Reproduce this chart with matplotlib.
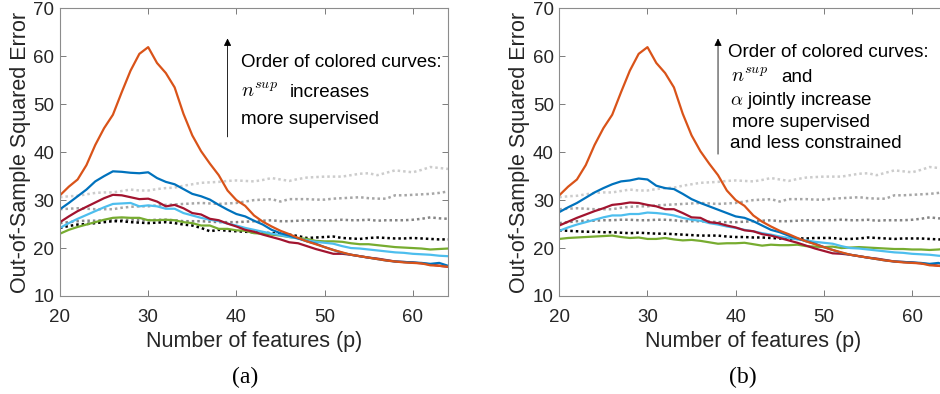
import matplotlib
matplotlib.use("Agg")
import matplotlib.pyplot as plt

p = list(range(20, 65))

orange = [31.0, 32.8, 34.3, 37.3, 41.5, 45.0, 47.8, 52.5, 57.0, 60.5, 61.9, 58.6, 56.5, 53.5, 48.0,
          43.5, 40.2, 37.6, 35.2, 32.0, 30.0, 28.8, 26.8, 25.5, 24.5, 23.6, 22.9, 22.1, 21.4, 20.8,
          20.2, 19.6, 19.1, 18.6, 18.3, 18.0, 17.7, 17.4, 17.2, 17.0, 16.9, 16.8, 16.4, 16.3, 16.1]

blue_a = [28.1, 29.4, 30.8, 32.2, 33.9, 35.0, 36.0, 35.9, 35.7, 35.6, 35.8, 34.6, 33.8, 33.3, 32.3,
          31.3, 30.8, 30.1, 29.0, 28.0, 27.1, 26.6, 25.7, 24.9, 23.8, 23.1, 22.6, 22.0, 21.4, 20.9,
          20.2, 19.6, 19.0, 18.6, 18.3, 18.0, 17.7, 17.4, 17.2, 17.1, 17.0, 16.9, 16.7, 16.9, 16.3]
blue_b = [27.5, 28.5, 29.4, 30.5, 31.6, 32.5, 33.3, 33.9, 34.1, 34.5, 34.3, 33.0, 32.5, 32.3, 31.3,
          30.2, 29.4, 28.7, 28.0, 27.3, 26.6, 26.3, 25.6, 24.7, 23.8, 23.3, 22.6, 22.0, 21.4, 20.9,
          20.2, 19.6, 19.0, 18.6, 18.3, 18.0, 17.7, 17.4, 17.2, 17.1, 17.0, 16.9, 16.7, 16.9, 16.3]

red_a = [25.4, 26.6, 27.7, 28.6, 29.5, 30.4, 31.1, 31.0, 30.6, 30.2, 30.3, 29.7, 28.7, 29.0, 28.3,
         27.3, 27.0, 26.1, 25.8, 25.1, 24.5, 23.8, 23.4, 22.8, 22.3, 21.8, 21.2, 21.0, 20.4, 19.8,
         19.3, 18.8, 18.8, 18.6, 18.3, 18.0, 17.8, 17.5, 17.2, 17.1, 17.0, 16.8, 16.6, 16.3, 16.1]
red_b = [24.7, 25.5, 26.3, 27.0, 27.7, 28.3, 29.0, 29.2, 29.5, 29.4, 29.0, 28.7, 28.1, 28.1, 27.3,
         26.4, 26.3, 25.4, 25.2, 24.7, 24.3, 23.7, 23.5, 22.9, 22.6, 22.1, 21.6, 21.1, 20.5, 19.9,
         19.4, 18.9, 18.8, 18.6, 18.3, 18.0, 17.8, 17.5, 17.2, 17.1, 17.0, 16.8, 16.6, 16.3, 16.1]

lblue_a = [24.2, 25.2, 26.1, 26.9, 27.7, 28.5, 29.2, 29.3, 29.4, 28.7, 28.9, 28.7, 28.2, 28.2, 27.3,
           26.8, 26.3, 25.9, 25.6, 25.1, 24.7, 24.2, 23.8, 23.4, 23.0, 22.7, 22.3, 22.0, 21.6, 21.3,
           21.1, 20.9, 20.4, 20.0, 19.9, 19.7, 19.5, 19.3, 19.1, 19.0, 18.8, 18.7, 18.6, 18.4, 18.3]
lblue_b = [23.6, 24.3, 24.9, 25.4, 25.9, 26.4, 26.8, 26.8, 27.1, 27.1, 27.4, 27.3, 27.1, 26.8, 26.3,
           25.9, 25.7, 25.2, 24.9, 24.5, 24.2, 23.8, 23.5, 23.1, 22.8, 22.4, 22.1, 21.8, 21.6, 21.3,
           21.1, 20.9, 20.4, 20.0, 19.9, 19.7, 19.5, 19.3, 19.1, 19.0, 18.8, 18.7, 18.6, 18.4, 18.3]

green_a = [23.0, 23.8, 24.4, 24.9, 25.4, 25.9, 26.3, 26.4, 26.3, 26.3, 25.8, 25.8, 25.9, 25.8, 25.4,
           25.2, 24.7, 24.7, 24.0, 24.0, 23.7, 23.6, 23.1, 23.0, 22.8, 22.6, 22.3, 22.1, 21.9, 21.5,
           21.4, 21.4, 21.3, 21.0, 20.8, 20.8, 20.6, 20.4, 20.2, 20.1, 20.0, 19.9, 19.7, 19.8, 19.9]
green_b = [21.9, 22.1, 22.2, 22.3, 22.4, 22.5, 22.6, 22.3, 22.1, 22.2, 21.9, 21.9, 22.1, 21.8, 21.6,
           21.7, 21.5, 21.2, 20.9, 21.0, 21.0, 21.1, 20.8, 20.5, 20.7, 20.6, 20.6, 20.7, 20.4, 20.3,
           20.2, 20.3, 20.0, 20.1, 20.2, 20.1, 20.0, 19.9, 19.8, 19.8, 19.7, 19.7, 19.6, 19.7, 19.9]

black_a = [24.2, 24.6, 24.9, 25.0, 25.2, 25.4, 25.6, 25.6, 25.4, 25.3, 25.2, 25.3, 25.4, 25.2, 24.9,
           24.7, 24.2, 23.5, 23.8, 23.6, 23.5, 23.4, 23.3, 23.2, 23.1, 23.0, 22.8, 22.5, 22.1, 22.2,
           22.3, 22.4, 22.1, 22.0, 21.9, 22.1, 22.2, 22.1, 22.0, 22.0, 22.1, 22.0, 21.9, 21.8, 21.8]
black_b = [23.7, 23.6, 23.5, 23.4, 23.4, 23.3, 23.3, 23.2, 23.1, 23.2, 23.1, 23.0, 23.0, 22.9, 22.8,
           22.7, 22.6, 22.6, 22.6, 22.4, 22.3, 22.3, 22.2, 22.2, 22.1, 22.0, 21.9, 22.0, 22.0, 22.1,
           22.1, 22.1, 21.9, 21.9, 22.0, 22.2, 22.1, 22.0, 21.9, 22.0, 22.0, 22.0, 21.9, 21.8, 21.8]

gray_light = [30.6, 30.8, 30.9, 31.2, 31.5, 31.6, 31.6, 31.9, 32.2, 32.0, 32.0, 32.3, 32.5, 32.6, 33.0,
              33.3, 33.6, 33.7, 33.8, 34.0, 34.1, 34.0, 33.9, 34.2, 34.6, 34.3, 34.0, 34.4, 34.7, 34.8,
              34.9, 34.9, 34.9, 35.2, 35.5, 35.6, 35.2, 35.7, 36.2, 36.0, 35.8, 36.3, 36.9, 36.7, 36.5]
gray_mid = [28.1, 28.2, 28.3, 28.2, 28.1, 28.1, 28.1, 28.4, 28.6, 28.7, 28.7, 28.9, 29.0, 29.1, 29.2,
            29.3, 29.4, 29.3, 29.2, 29.3, 29.4, 29.7, 30.0, 30.1, 30.2, 29.7, 30.2, 30.2, 30.2, 30.1,
            30.1, 30.3, 30.4, 30.5, 30.6, 30.4, 30.3, 30.3, 31.0, 31.0, 31.1, 31.2, 31.3, 31.5, 31.8]
gray_dark = [25.2, 25.4, 25.6, 25.7, 25.7, 25.8, 25.8, 25.9, 25.9, 25.8, 25.8, 25.9, 25.9, 25.8, 25.6,
             25.6, 25.6, 25.5, 25.4, 25.4, 25.4, 25.5, 25.6, 25.7, 25.8, 25.6, 25.6, 25.7, 25.8, 25.8,
             25.8, 25.8, 25.9, 25.8, 25.8, 25.9, 25.7, 25.8, 25.8, 25.8, 25.9, 26.1, 26.4, 26.2, 26.1]

xticks = [20, 30, 40, 50, 60]
yticks = [10, 20, 30, 40, 50, 60, 70]

C_BLUE = "#0072BD"
C_ORANGE = "#D95319"
C_LBLUE = "#4DBEEE"
C_GREEN = "#77AC30"
C_RED = "#A2142F"
TXT = "#262626"
FONT = "Liberation Sans"
TICK_FS = 13.5
LAB_FS = 15.5
ANN_FS = 13.5

plt.rcParams["font.family"] = FONT

fig = plt.figure(figsize=(9.4, 3.94), dpi=100)
ax_a = fig.add_axes([60 / 940, 1 - 296 / 394, 388 / 940, (296 - 8.3) / 394])
ax_b = fig.add_axes([559.3 / 940, 1 - 296 / 394, 388 / 940, (296 - 8.3) / 394])

panels = [
    (ax_a, blue_a, red_a, lblue_a, green_a, black_a),
    (ax_b, blue_b, red_b, lblue_b, green_b, black_b),
]

for ax, bl, rd, lb, gr, bk in panels:
    ax.plot(p, gray_light, color="#cccccc", lw=1.8, ls=(0, (1, 1.2)))
    ax.plot(p, gray_mid, color="#a6a6a6", lw=1.8, ls=(0, (1, 1.2)))
    ax.plot(p, gray_dark, color="#858585", lw=1.8, ls=(0, (1, 1.2)))
    ax.plot(p, bk, color="black", lw=1.8, ls=(0, (1, 1.2)))
    ax.plot(p, gr, color=C_GREEN, lw=1.6)
    ax.plot(p, lb, color=C_LBLUE, lw=1.6)
    ax.plot(p, rd, color=C_RED, lw=1.6)
    ax.plot(p, bl, color=C_BLUE, lw=1.6)
    ax.plot(p, orange, color=C_ORANGE, lw=1.6)
    ax.set_xlim(20, 64)
    ax.set_ylim(10, 70)
    ax.set_xticks(xticks)
    ax.set_yticks(yticks)
    ax.tick_params(direction="in", length=4, width=0.6, color="#666666",
                   labelsize=TICK_FS, labelcolor=TXT, top=True, right=True)
    ax.tick_params(axis="x", pad=9)
    ax.tick_params(axis="y", pad=4)
    for s in ax.spines.values():
        s.set_color("#8c8c8c")
        s.set_linewidth(0.8)
    ax.set_xlabel("Number of features (p)", fontsize=LAB_FS, color=TXT, labelpad=4)
    ax.set_ylabel("Out-of-Sample Squared Error", fontsize=LAB_FS, color=TXT, labelpad=2)

# annotations panel (a)
ax_a.annotate("", xy=(39.0, 64.3), xytext=(39.0, 42.6),
              arrowprops=dict(arrowstyle="-|>", color="black", lw=0.6,
                              mutation_scale=11))
ax_a.text(40.5, 58.6, "Order of colored curves:", fontsize=ANN_FS, va="center", ha="left")
ax_a.text(40.5, 52.6, r"$n^{sup}$", fontsize=ANN_FS + 1, va="center", ha="left", math_fontfamily="cm")
ax_a.text(46.0, 52.4, "increases", fontsize=ANN_FS, va="center", ha="left")
ax_a.text(40.5, 46.9, "more supervised", fontsize=ANN_FS, va="center", ha="left")

# annotations panel (b)
ax_b.annotate("", xy=(38.0, 64.3), xytext=(38.0, 39.0),
              arrowprops=dict(arrowstyle="-|>", color="black", lw=0.6,
                              mutation_scale=11))
ax_b.text(39.1, 60.8, "Order of colored curves:", fontsize=ANN_FS, va="center", ha="left")
ax_b.text(39.5, 55.8, r"$n^{sup}$", fontsize=ANN_FS + 1, va="center", ha="left", math_fontfamily="cm")
ax_b.text(45.2, 55.6, "and", fontsize=ANN_FS, va="center", ha="left")
ax_b.text(39.4, 50.7, r"$\alpha$" + " jointly increase", fontsize=ANN_FS, va="center", ha="left",
          math_fontfamily="cm")
ax_b.text(39.6, 46.1, "more supervised", fontsize=ANN_FS, va="center", ha="left")
ax_b.text(39.4, 41.7, "and less constrained", fontsize=ANN_FS, va="center", ha="left")

fig.text(245 / 940, 1 - 377 / 394, "(a)", fontsize=17, family="Liberation Serif",
         ha="center", va="center")
fig.text(743 / 940, 1 - 377 / 394, "(b)", fontsize=17, family="Liberation Serif",
         ha="center", va="center")

fig.savefig("out.png", dpi=100)
